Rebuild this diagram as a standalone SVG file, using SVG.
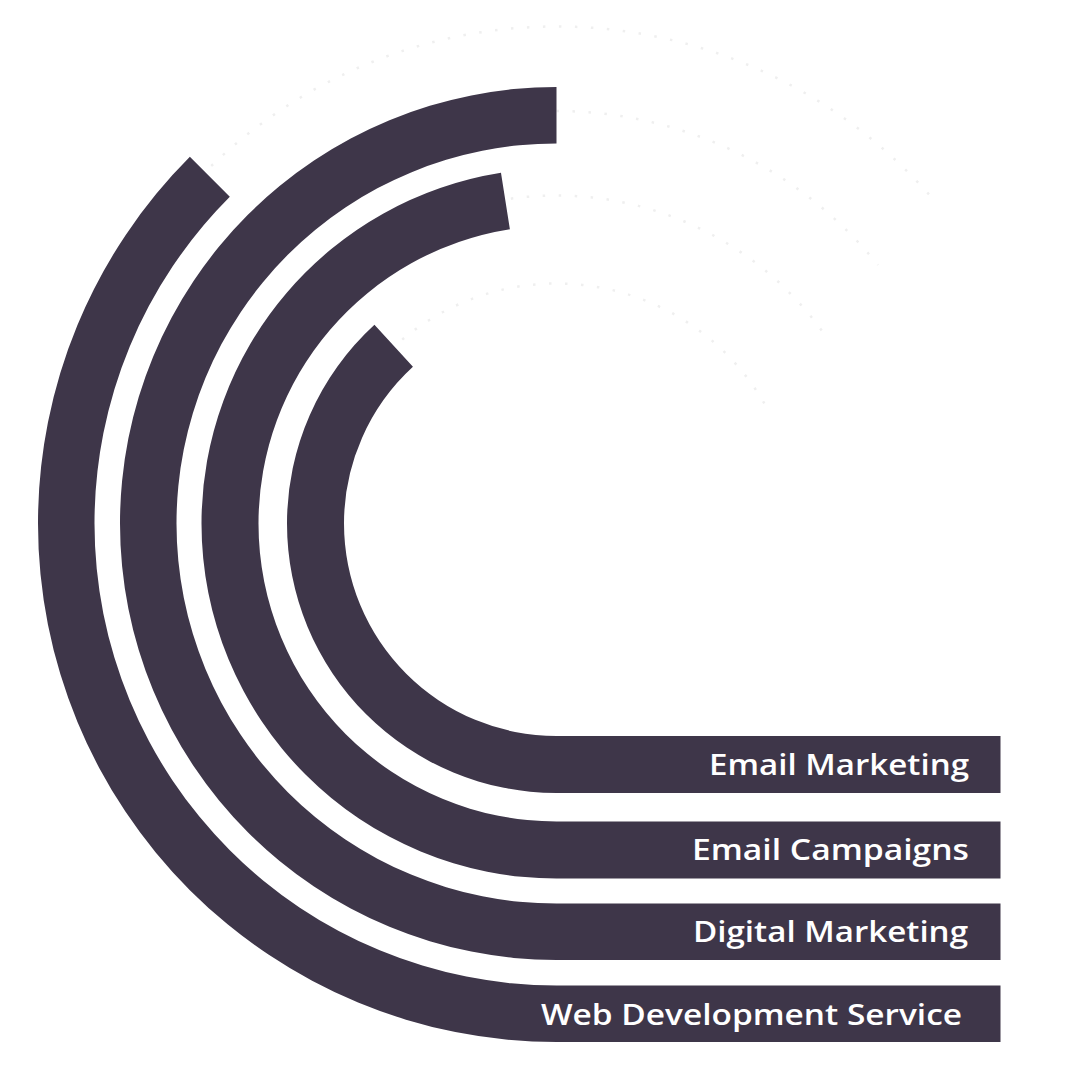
<svg xmlns="http://www.w3.org/2000/svg" width="1080" height="1080" viewBox="0 0 1080 1080">
  <style>
    .band { fill: #3e3649; }
    .dots { fill: none; stroke: #efefef; stroke-width: 2.5; stroke-dasharray: 2.5 13.5; }
    .label { fill: #ffffff; font-family: "Open Sans", "Liberation Sans", sans-serif; font-weight: 600; font-size: 28px; text-anchor: end; }
  </style>
  <rect width="1080" height="1080" fill="#ffffff"/>
  <g id="dotted-guides">
    <path class="dots" d="M 211.25 165.99 A 497 497 0 0 1 932.73 198.75"/>
    <path class="dots" d="M 556.5 111 A 412.5 412.5 0 0 1 878.01 265.03"/>
    <path class="dots" d="M 510.85 198.69 A 328 328 0 0 1 829.06 341.03"/>
    <path class="dots" d="M 402.23 339.65 A 240 240 0 0 1 770.53 414.92"/>
  </g>
  <g id="node-web-development-service">
    <path class="band" d="M 1000.5 985.5 L 556.5 985.5 A 462 462 0 0 1 94.5 523.5 A 462 462 0 0 1 229.82 196.82 L 189.87 156.87 A 518.5 518.5 0 0 0 38 523.5 A 518.5 518.5 0 0 0 556.5 1042 L 1000.5 1042 Z"/>
    <text class="label" x="962" y="1025" textLength="421" lengthAdjust="spacingAndGlyphs">Web Development Service</text>
  </g>
  <g id="node-digital-marketing">
    <path class="band" d="M 1000.5 903.5 L 556.5 903.5 A 380 380 0 0 1 176.5 523.5 A 380 380 0 0 1 556.5 143.5 L 556.5 87 A 436.5 436.5 0 0 0 120 523.5 A 436.5 436.5 0 0 0 556.5 960 L 1000.5 960 Z"/>
    <text class="label" x="968" y="942" textLength="275" lengthAdjust="spacingAndGlyphs">Digital Marketing</text>
  </g>
  <g id="node-email-campaigns">
    <path class="band" d="M 1000.5 821.5 L 556.5 821.5 A 298 298 0 0 1 258.5 523.5 A 298 298 0 0 1 509.88 229.17 L 500.97 172.87 A 355 355 0 0 0 201.5 523.5 A 355 355 0 0 0 556.5 878.5 L 1000.5 878.5 Z"/>
    <text class="label" x="969" y="860" textLength="277" lengthAdjust="spacingAndGlyphs">Email Campaigns</text>
  </g>
  <g id="node-email-marketing">
    <path class="band" d="M 1000.5 736 L 556.5 736 A 212.5 212.5 0 0 1 344 523.5 A 212.5 212.5 0 0 1 412.94 366.83 L 374.43 324.8 A 269.5 269.5 0 0 0 287 523.5 A 269.5 269.5 0 0 0 556.5 793 L 1000.5 793 Z"/>
    <text class="label" x="969" y="775" textLength="260" lengthAdjust="spacingAndGlyphs">Email Marketing</text>
  </g>
  <g id="connectors"></g>
</svg>
